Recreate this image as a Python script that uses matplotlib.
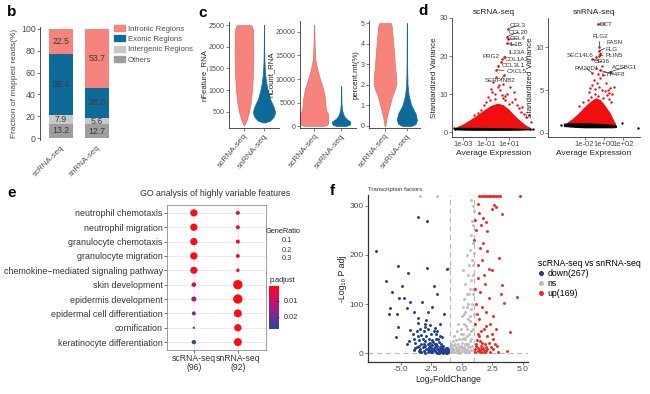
import numpy as np
import matplotlib
matplotlib.use("Agg")
import matplotlib.pyplot as plt
from matplotlib.patches import Patch
from matplotlib.lines import Line2D
from matplotlib.colors import LinearSegmentedColormap, Normalize
from matplotlib.colorbar import ColorbarBase

plt.rcParams['font.family'] = ['Liberation Sans', 'DejaVu Sans']

W, H = 650, 394

# ---- panel b: read fractions ----
samples = ["scRNA-seq", "snRNA-seq"]
region_names = ["Intronic Regions", "Exonic Regions", "Intergenic Regions", "Others"]
others = [13.2, 12.7]
intergenic = [7.9, 5.6]
exonic = [56.4, 28.0]
intronic = [22.5, 53.7]

# ---- panel c: violin outlines (value, half width) ----
nfeat_sc_y = [200, 300, 500, 700, 1000, 1300, 1600, 1900, 2200, 2400, 2470, 2500]
nfeat_sc_w = [0.02, 0.12, 0.25, 0.33, 0.40, 0.44, 0.46, 0.47, 0.46, 0.44, 0.40, 0.33]
nfeat_sn_y = [260, 300, 400, 500, 600, 700, 800, 1000, 1200, 1400, 1700, 2000, 2500]
nfeat_sn_w = [0.05, 0.30, 0.50, 0.55, 0.50, 0.40, 0.30, 0.18, 0.10, 0.05, 0.02, 0.012, 0.006]
ncount_sc_y = [0, 300, 1000, 2500, 3500, 4500, 6000, 8000, 10000, 12000, 14000, 17000, 21500]
ncount_sc_w = [0.35, 0.50, 0.53, 0.52, 0.44, 0.42, 0.40, 0.33, 0.22, 0.12, 0.05, 0.02, 0.006]
ncount_sn_y = [0, 200, 600, 1000, 1500, 2000, 2500, 3500, 5000, 8500]
ncount_sn_w = [0.15, 0.30, 0.34, 0.33, 0.20, 0.12, 0.08, 0.03, 0.012, 0.004]
mt_sc_y = [0.0, 0.3, 0.7, 1.0, 1.5, 1.8, 2.1, 2.5, 3.0, 3.5, 4.0, 4.5, 4.9, 5.0]
mt_sc_w = [0.02, 0.06, 0.14, 0.22, 0.34, 0.46, 0.52, 0.50, 0.45, 0.42, 0.38, 0.34, 0.30, 0.26]
mt_sn_y = [0.0, 0.1, 0.3, 0.6, 1.0, 1.5, 2.0, 3.0, 5.0]
mt_sn_w = [0.20, 0.40, 0.46, 0.40, 0.20, 0.08, 0.03, 0.012, 0.004]

# ---- panel d: HVG scatter (log10 mean expression, standardized variance) ----
sc_env_x = [-3.75, -3.0, -2.4, -1.8, -1.2, -0.6, 0.0, 0.5, 1.0, 1.5, 2.0, 2.5, 2.9]
sc_env_top = [1.2, 2.2, 3.3, 4.5, 5.8, 7.0, 7.6, 7.2, 6.0, 4.4, 3.0, 1.8, 1.2]
sc_black_x = [-3.8, -3.0, -2.0, -1.0, 0.0, 1.0, 2.0, 3.0]
sc_black_lo = [0.6, 0.5, 0.45, 0.45, 0.45, 0.45, 0.5, 0.6]
sc_black_hi = [1.2, 1.25, 1.25, 1.2, 1.15, 1.1, 1.0, 0.9]
sc_red_x = [-0.25, -0.55, 0.06, -0.85, 0.36, 0.66, -0.39, -0.09, 1.43, 0.97, 1.73, 2.03, 2.48,
            2.94, 2.79, -1.15, -1.45, 0.21, 1.12, -0.7, 0.52, 0.82, -1.75, 1.58, 2.18, -0.2,
            0.5, 1.25, -1.0, 0.1, 1.9, -2.1, 0.7, -0.5, 2.3]
sc_red_y = [10.1, 11.4, 11.8, 9.2, 9.7, 8.4, 13.1, 14.4, 10.5, 7.5, 7.0, 5.3, 4.0,
            2.7, 4.4, 7.0, 5.7, 11.0, 11.8, 8.4, 12.7, 10.1, 4.9, 8.8, 6.6, 8.6,
            9.0, 8.0, 7.8, 12.4, 6.2, 4.6, 9.4, 10.6, 4.8]
sc_black_pts_x = [-3.85, -3.7, 3.1, 2.9]
sc_black_pts_y = [1.0, 0.9, 0.7, 0.8]
sc_genes = ["CCL3", "CCL20", "CCL4", "IL1B", "IL23A", "PRG2", "COL1A1", "CCL3L1", "CXCL5", "SERPINB2"]
sc_gene_x = [0.91, 0.82, 0.91, 0.82, 0.6, 0.43, 0.3, 0.06, -0.09, 0.55]
sc_gene_y = [27.2, 25.1, 24.4, 23.3, 19.8, 19.2, 18.4, 17.5, 16.4, 14.9]
sc_text_x = [1.05, 1.0, 1.05, 1.05, 1.0, 0.18, 0.64, 0.36, 0.82, 0.27]
sc_text_y = [28.0, 26.3, 24.6, 22.9, 20.9, 19.9, 19.0, 17.4, 15.8, 13.6]
sc_text_ha = ["left", "left", "left", "left", "left", "right", "left", "left", "left", "center"]

sn_env_x = [-3.9, -3.26, -2.58, -1.9, -1.4, -0.87, -0.4, -0.02, 0.67, 1.0, 1.2]
sn_env_top = [1.2, 1.7, 2.4, 3.2, 3.7, 4.1, 3.9, 3.4, 2.3, 1.5, 1.1]
sn_black_x = [-4.2, -3.0, -2.0, -1.0, 0.0, 1.0, 1.3]
sn_black_lo = [0.75, 0.65, 0.6, 0.6, 0.6, 0.6, 0.65]
sn_black_hi = [1.15, 1.2, 1.2, 1.15, 1.1, 1.0, 0.9]
sn_red_x = [-1.2, -0.7, -0.36, 0.67, 1.0, -1.56, -0.9, -0.2, 0.3, -1.0, -0.6, 0.1, -1.3, 0.5,
            -0.5, -0.1, -2.2, 0.85, -0.8, -0.25, 0.2, -1.7, -0.95, 0.55, -1.45, -0.05, 0.4,
            -2.6, 0.75, -0.65]
sn_red_y = [5.6, 5.85, 6.4, 5.2, 5.4, 4.8, 4.6, 5.0, 4.4, 6.2, 4.3, 4.9, 4.2, 4.0,
            5.3, 4.1, 3.6, 4.5, 7.6, 7.8, 5.8, 3.9, 5.1, 4.7, 5.2, 6.8, 5.0, 3.1, 3.6, 6.9]
sn_black_pts_x = [-4.46, 1.9, 3.54]
sn_black_pts_y = [0.93, 1.16, 0.58]
sn_genes = ["DCT", "FLG2", "FASN", "FLG", "PLIN5", "SEC14L6", "CD36", "PM20D1", "ACSBG1", "CYP4F8"]
sn_gene_x = [-0.6, -0.5, -0.55, -0.45, -0.5, -0.8, -1.2, -1.2, 0.6, -0.4]
sn_gene_y = [12.7, 10.0, 9.5, 9.2, 9.0, 8.8, 8.6, 7.0, 7.1, 7.3]
sn_text_x = [-0.45, -0.36, 0.26, 0.15, 0.2, -1.1, -1.05, -1.83, 0.84, -0.2]
sn_text_y = [12.7, 11.3, 10.5, 9.75, 9.0, 9.0, 8.3, 7.5, 7.65, 6.85]
sn_text_ha = ["left", "center", "left", "left", "left", "right", "left", "center", "left", "left"]

# ---- panel e: GO dot plot ----
go_terms = ["neutrophil chemotaxis", "neutrophil migration", "granulocyte chemotaxis",
            "granulocyte migration", "chemokine\u2212mediated signaling pathway", "skin development",
            "epidermis development", "epidermal cell differentiation", "cornification",
            "keratinocyte differentiation"]
go_groups = ["scRNA-seq\n(96)", "snRNA-seq\n(92)"]
ratio_sc = [0.25, 0.25, 0.25, 0.25, 0.24, 0.10, 0.12, 0.076, 0.025, 0.088]
ratio_sn = [0.076, 0.076, 0.076, 0.072, 0.055, 0.41, 0.41, 0.30, 0.25, 0.30]
padj_sc = [0.001, 0.001, 0.001, 0.001, 0.002, 0.006, 0.011, 0.019, 0.022, 0.0275]
padj_sn = [0.002, 0.002, 0.002, 0.002, 0.003, 0.0005, 0.0005, 0.001, 0.0015, 0.001]

# ---- panel f: volcano of transcription factors ----
down_x = [-3.56, -2.82, -7.05, -5.25, -4.38, -2.87, -1.23, -6.2, -5.69, -4.92, -4.7, -5.1, -4.24,
          -3.23, -2.27, -2.05, -2.46, -5.88, -5.96, -5.28, -4.51, -3.88, -2.74, -1.45, -5.25,
          -5.39, -3.61, -3.0, -2.1, -1.64, -4.0, -3.9, -3.8, -3.7, -3.6, -3.5, -3.5, -3.4, -3.4,
          -3.3, -3.3, -3.2, -3.2, -3.1, -3.1, -3.0, -3.0, -2.9, -2.9, -2.8, -2.8, -2.7, -2.7,
          -2.6, -2.6, -2.5, -2.5, -2.4, -2.4, -2.3, -2.3, -2.2, -2.2, -2.1, -2.1, -2.0, -2.0,
          -1.9, -1.9, -1.8, -1.8, -1.7, -1.7, -1.6, -1.6, -1.5, -1.5, -1.4, -1.3, -1.3, -1.2,
          -1.1, -1.1, -3.0, -2.6, -4.3, -4.5, -3.8, -2.4, -1.9, -2.8, -3.3, -1.5, -1.2, -2.2,
          -3.6, -4.2, -2.0, -1.8, -2.9, -3.4, -3.0, -2.7, -2.5, -2.3, -2.1, -1.9, -1.7, -1.5,
          -1.4, -1.3, -1.2, -1.15, -2.0, -2.2, -2.4, -2.6, -2.8, -3.1, -3.5, -3.7, -3.9, -2.35,
          -1.65, -1.95]
down_y = [277, 269, 208, 178, 163, 173, 172, 147, 125, 136, 112, 112, 104,
          105, 136, 121, 95, 92, 80, 81, 92, 85, 85, 81, 54,
          34, 71, 54, 39, 34, 40, 30, 22, 45, 35, 15, 28, 50, 8,
          38, 20, 12, 30, 45, 5, 25, 15, 35, 8, 20, 50, 12, 30,
          4, 22, 40, 10, 16, 28, 6, 45, 20, 12, 3, 30, 15, 8,
          24, 4, 12, 36, 6, 18, 10, 3, 14, 5, 8, 4, 11, 6,
          3, 8, 60, 58, 25, 18, 10, 2, 1.5, 2, 3, 1.5, 1.5, 52,
          62, 48, 45, 60, 68, 2, 1.5, 6, 3, 11, 18, 8, 2, 9,
          3, 1.5, 10, 4, 1.5, 5, 7, 14, 9, 18, 4, 12, 6, 24,
          14, 30]
ns_x = [-1.5, -1.4, -1.2, -1.0, -1.0, -0.9, -0.9, -0.8, -0.8, -0.7, -0.7, -0.6, -0.6, -0.5,
        -0.5, -0.4, -0.4, -0.3, -0.3, -0.2, -0.2, -0.1, -0.1, 0.0, 0.0, 0.0, 0.1, 0.1, 0.2,
        0.2, 0.2, 0.3, 0.3, 0.3, 0.4, 0.4, 0.4, 0.5, 0.5, 0.5, 0.55, 0.6, 0.6, 0.65, 0.7, 0.7,
        0.7, 0.75, 0.8, 0.8, 0.8, 0.85, 0.85, 0.9, 0.9, 0.9, 0.95, 0.95, 0.95, 1.0, 1.0, 1.0,
        0.6, 0.3, -0.2, 0.9, -1.8, 0.1, 0.45, 0.8, -0.6, -0.3, 0.05, 0.35, 0.65, -0.85, -0.45,
        0.25, 0.75, 0.15, -3.4, -2.0, -1.05, -0.15, 0.5, 0.85, -1.3, -1.1, -0.95, -0.75, -0.65,
        -0.55, -0.35, -0.25, -0.05, 0.05, 0.15, 0.25, 0.35, 0.45, 0.55, 0.65, 0.75, 0.85, 0.95,
        0.9, 0.2, -0.1, 0.4, 0.6]
ns_y = [3, 6, 10, 4, 14, 8, 20, 3, 12, 25, 6, 16, 35, 9,
        28, 4, 45, 18, 60, 30, 8, 50, 14, 75, 22, 5, 40, 95, 12,
        60, 110, 30, 85, 140, 50, 120, 8, 70, 160, 20, 100, 180, 40, 130, 210, 65,
        12, 150, 240, 90, 30, 190, 270, 120, 225, 300, 50, 160, 260, 290, 205, 80,
        3, 2, 1.5, 6, 1.5, 170, 200, 312, 2, 5, 10, 18, 25, 2, 12,
        4, 7, 32, 320, 320, 173, 3, 4, 15, 2, 6, 2, 9, 3,
        20, 7, 12, 3, 30, 9, 20, 55, 35, 15, 75, 45, 100, 130,
        180, 80, 40, 95, 120]
up_x = [1.36, 2.65, 2.81, 2.51, 3.28, 1.44, 1.77, 1.09, 1.99, 1.56, 2.05, 1.03, 1.72, 2.1,
        3.08, 1.64, 2.26, 2.46, 1.36, 3.28, 4.5, 2.26, 3.22, 3.49, 3.96, 2.54, 3.69, 1.2, 1.5,
        1.3, 1.8, 1.1, 1.5, 1.9, 1.2, 1.7, 2.0, 1.4, 2.3, 1.1, 1.8, 2.8, 1.3, 2.1, 2.6, 1.5,
        1.9, 1.2, 2.4, 1.6, 2.0, 1.3, 1.75, 2.2, 2.9, 1.1, 1.5, 1.9, 3.0, 1.25, 1.6, 2.5,
        1.45, 1.6, 1.75, 1.9, 2.05, 2.2, 2.35, 2.5, 2.65, 2.8, 2.95, 3.1, 4.75,
        1.05, 1.15, 1.35, 1.45, 1.55, 1.65, 1.7, 1.85, 1.95, 2.1, 2.3, 2.6, 1.4, 2.0, 1.25, 2.7]
up_y = [304, 302, 297, 293, 284, 286, 275, 271, 268, 261, 248, 231, 224, 208,
        193, 190, 171, 170, 153, 139, 115, 112, 121, 102, 44, 75, 5, 250, 215,
        180, 160, 130, 125, 140, 100, 95, 85, 70, 60, 60, 50, 50, 40, 35, 30, 25,
        18, 15, 12, 8, 5, 4, 10, 22, 15, 8, 2, 2.5, 3, 28, 45, 40,
        320, 320, 320, 320, 320, 320, 320, 320, 320, 320, 320, 320, 320,
        3, 20, 10, 6, 15, 3, 22, 6, 12, 8, 3, 9, 35, 55, 80, 20]

fig = plt.figure(figsize=(W / 100, H / 100), dpi=100)
fig.patch.set_facecolor("white")


def px_axes(x0, y0, x1, y1):
    return fig.add_axes([x0 / W, 1 - y1 / H, (x1 - x0) / W, (y1 - y0) / H])


def fig_text(x, y, s, **kw):
    fig.text(x / W, 1 - y / H, s, **kw)


def tidy(ax, left=True, bottom=True, ysize=6, xsize=6):
    for side in ["top", "right"]:
        ax.spines[side].set_visible(False)
    ax.spines["left"].set_visible(left)
    ax.spines["bottom"].set_visible(bottom)
    for side in ["left", "bottom"]:
        ax.spines[side].set_linewidth(0.6)
        ax.spines[side].set_color("#333333")
    ax.tick_params(colors="#4D4D4D", length=2, width=0.5, pad=1.2)
    ax.tick_params(axis="y", labelsize=ysize)
    ax.tick_params(axis="x", labelsize=xsize)


SALMON = "#F6847D"
TEAL = "#0E6A98"
GREY_TXT = "#4D4D4D"

# panel letters
for letter, lx, ly in [("b", 12, 12), ("c", 203, 13), ("d", 423, 11), ("e", 12, 193), ("f", 332, 191)]:
    fig_text(lx, ly, letter, fontsize=11, fontweight="bold", va="center", ha="center")

# ================= b =================
ax = px_axes(40, 27, 112, 140)
xb = np.arange(1, len(samples) + 1)
bw = 0.667
bottoms = np.zeros(len(samples))
stack = [(others, "#9E9E9E"), (intergenic, "#C9C9C9"), (exonic, TEAL), (intronic, SALMON)]
for vals, col in stack:
    ax.bar(xb, vals, bw, bottom=bottoms, color=col, edgecolor="none")
    for i, v in enumerate(vals):
        ax.text(xb[i], bottoms[i] + v / 2, f"{v:.1f}", ha="center", va="center",
                fontsize=6.3, color="#3A3A3A")
    bottoms += np.array(vals)
ax.set_xlim(0.42, 2.42)
ax.set_ylim(-1.8, 101.8)
ax.set_yticks([0, 20, 40, 60, 80, 100])
ax.set_xticks(xb)
ax.set_xticklabels(samples, rotation=45, ha="right", rotation_mode="anchor")
tidy(ax, bottom=False, ysize=6.3, xsize=5.8)
ax.tick_params(axis="x", length=0, pad=3)
ax.set_ylabel("Fraction of mapped reads(%)", fontsize=6, color=GREY_TXT, labelpad=2)
handles = [Patch(color=c) for c in [SALMON, TEAL, "#C9C9C9", "#9E9E9E"]]
fig.legend(handles, region_names, loc="upper left", bbox_to_anchor=(114 / W, 1 - 25 / H),
           frameon=False, fontsize=5.6, handlelength=1.4, handleheight=0.8,
           labelspacing=0.35, handletextpad=0.4, borderaxespad=0, borderpad=0,
           labelcolor=GREY_TXT)

# ================= c =================
violin_panels = [
    ((229, 22, 279, 128), (0.25, 2.75), (132, 2569), [500, 1000, 1500, 2000, 2500],
     "nFeature_RNA", (nfeat_sc_y, nfeat_sc_w), (nfeat_sn_y, nfeat_sn_w)),
    ((300, 21, 356, 128), (0.48, 2.55), (-425, 22340), [0, 5000, 10000, 15000, 20000],
     "nCount_RNA", (ncount_sc_y, ncount_sc_w), (ncount_sn_y, ncount_sn_w)),
    ((369, 21, 420, 128), (0.27, 2.6), (-0.1, 5.1), [0, 1, 2, 3, 4, 5],
     "percent.mt(%)", (mt_sc_y, mt_sc_w), (mt_sn_y, mt_sn_w)),
]
for box, xl, yl, yt, lab, sc, sn in violin_panels:
    ax = px_axes(*box)
    for pos, (vy, vw), fc, ec in [(1, sc, SALMON, "#D9736C"), (2, sn, TEAL, TEAL)]:
        vy = np.array(vy, dtype=float)
        vw = np.array(vw)
        ax.fill_betweenx(vy, pos - vw, pos + vw, facecolor=fc, edgecolor=ec, linewidth=0.5)
    ax.set_xlim(*xl)
    ax.set_ylim(*yl)
    ax.set_yticks(yt)
    ax.set_xticks([1, 2])
    ax.set_xticklabels(samples, rotation=50, ha="right", rotation_mode="anchor")
    tidy(ax, ysize=5.1, xsize=6)
    ax.set_ylabel(lab, fontsize=5.6, color="#222222", labelpad=0.5)

# ================= d =================
def hvg_panel(box, xlim_log, ylim, yt, xt, xtl, title, env_x, env_top, bx, blo, bhi,
              rx, ry, kx, ky, genes, gx, gy, tx, ty, tha):
    ax = px_axes(*box)
    ax.set_xscale("log")
    ex = 10.0 ** np.array(env_x)
    ax.fill_between(ex, 0.8, env_top, color="#F00E0E", linewidth=0, zorder=1)
    ax.scatter(10.0 ** np.array(rx), ry, s=3, color="#F00E0E", linewidths=0, zorder=2)
    ax.scatter(10.0 ** np.array(gx), gy, s=3.5, color="#F00E0E", linewidths=0, zorder=2)
    ax.fill_between(10.0 ** np.array(bx), blo, bhi, color="black", linewidth=0, zorder=3)
    ax.scatter(10.0 ** np.array(kx), ky, s=3, color="black", linewidths=0, zorder=3)
    for g, px_, py_, tx_, ty_, ha in zip(genes, gx, gy, tx, ty, tha):
        ax.annotate(g, (10 ** px_, py_), (10 ** tx_, ty_), fontsize=4.5, color="#333333",
                    ha=ha, va="center",
                    arrowprops=dict(arrowstyle="-", lw=0.4, color="black", shrinkA=0, shrinkB=0.5))
    ax.set_xlim(10 ** xlim_log[0], 10 ** xlim_log[1])
    ax.set_ylim(*ylim)
    ax.set_yticks(yt)
    ax.set_xticks(xt)
    ax.set_xticklabels(xtl)
    ax.minorticks_off()
    tidy(ax, ysize=5.5, xsize=5.5)
    ax.set_title(title, fontsize=6, color="#222222", pad=3)
    ax.set_ylabel("Standardized Variance", fontsize=5.8, color="#222222", labelpad=0.5)
    ax.set_xlabel("Average Expression", fontsize=6, color="#222222", labelpad=1)


hvg_panel((452, 18, 535, 137), (-4.0, 3.3), (-1.3, 29.7), [0, 10, 20, 30],
          [1e-3, 1e-1, 1e1], ["1e-03", "1e-01", "1e+01"], "scRNA-seq",
          sc_env_x, sc_env_top, sc_black_x, sc_black_lo, sc_black_hi,
          sc_red_x, sc_red_y, sc_black_pts_x, sc_black_pts_y,
          sc_genes, sc_gene_x, sc_gene_y, sc_text_x, sc_text_y, sc_text_ha)
hvg_panel((548, 18, 640, 137), (-5.8, 3.74), (-0.47, 13.4), [0, 5, 10],
          [1e-2, 1e0, 1e2], ["1e-02", "1e+00", "1e+02"], "snRNA-seq",
          sn_env_x, sn_env_top, sn_black_x, sn_black_lo, sn_black_hi,
          sn_red_x, sn_red_y, sn_black_pts_x, sn_black_pts_y,
          sn_genes, sn_gene_x, sn_gene_y, sn_text_x, sn_text_y, sn_text_ha)

# ================= e =================
cmap = LinearSegmentedColormap.from_list("padj", ["#FF0A14", "#D1096B", "#7B2A8C", "#23489C"])
norm = Normalize(0.0006, 0.0276)
ax = px_axes(167, 205, 266, 350)
rows = np.arange(1, len(go_terms) + 1)
for i, (ratios, padj) in enumerate([(ratio_sc, padj_sc), (ratio_sn, padj_sn)]):
    ax.scatter(np.full(len(rows), i + 1), rows, s=np.array(ratios) * 110,
               c=padj, cmap=cmap, norm=norm, linewidths=0, zorder=3)
ax.set_xlim(0.39, 2.64)
ax.set_ylim(10.55, 0.45)
ax.set_yticks(rows)
ax.set_yticklabels(go_terms, fontsize=6.4, color="#1A1A1A")
ax.set_xticks([1, 2])
ax.set_xticklabels(go_groups, fontsize=6.2, color="#1A1A1A", linespacing=0.95)
ax.grid(True, color="#E3E3E3", linewidth=0.5, zorder=0)
ax.set_axisbelow(True)
for s in ax.spines.values():
    s.set_color("#8C8C8C")
    s.set_linewidth(0.6)
ax.tick_params(length=2, width=0.5, colors="#333333", pad=1)
fig_text(215, 194, "GO analysis of highly variable features", fontsize=6.3, color="#333333",
         ha="center", va="center")
fig_text(266, 231, "GeneRatio", fontsize=5.3, color="#222222", va="center")
for lab, ly in [("0.1", 241), ("0.2", 250), ("0.3", 259)]:
    fig_text(282, ly, lab, fontsize=5.3, color="#333333", va="center")
fig_text(270, 280, "p.adjust", fontsize=5.3, color="#222222", va="center")
cax = px_axes(269, 286, 279, 329)
cb = ColorbarBase(cax, cmap=cmap, norm=norm, orientation="vertical")
cb.set_ticks([0.01, 0.02])
cb.set_ticklabels(["0.01", "0.02"])
cb.outline.set_visible(False)
cax.invert_yaxis()
cax.tick_params(labelsize=5.3, colors="#333333", length=2, width=0.6, direction="in")
for t in cax.get_yticklines():
    t.set_color("white")

# ================= f =================
ax = px_axes(368, 195, 528, 362)
ax.scatter(ns_x, ns_y, s=4.5, color="#BDBDBD", linewidths=0, zorder=2)
ax.scatter(down_x, down_y, s=4.5, color="#1D3F8E", linewidths=0, zorder=3)
ax.scatter(up_x, up_y, s=4.5, color="#EA2A22", linewidths=0, zorder=3)
for xv in [-1, 1]:
    ax.axvline(xv, color="#BDBDBD", lw=0.9, ls=(0, (4, 3)), zorder=1)
ax.axhline(1.3, color="#BDBDBD", lw=0.9, ls=(0, (4, 3)), zorder=1)
ax.set_xlim(-7.68, 5.43)
ax.set_ylim(-17.6, 322)
ax.set_xticks([-5, -2.5, 0, 2.5, 5])
ax.set_xticklabels(["-5.0", "-2.5", "0.0", "2.5", "5.0"])
ax.set_yticks([0, 100, 200, 300])
tidy(ax, ysize=6, xsize=6)
ax.spines["left"].set_linewidth(0.9)
ax.spines["bottom"].set_linewidth(0.9)
ax.set_xlabel("Log\u2082FoldChange", fontsize=6.3, color="#222222", labelpad=1)
ax.set_ylabel("-Log\u2081\u2080 P adj", fontsize=6.3, color="#222222", labelpad=2)
fig_text(368, 190, "Transcription factors", fontsize=4.3, color="#333333", va="center")
leg_handles = [Line2D([], [], marker="o", ls="", ms=2.6, color=c)
               for c in ["#1D3F8E", "#BDBDBD", "#EA2A22"]]
fig.legend(leg_handles, ["down(267)", "ns", "up(169)"], title="scRNA-seq vs snRNA-seq",
           loc="upper left", bbox_to_anchor=(538 / W, 1 - 259 / H), frameon=False,
           fontsize=6.3, title_fontsize=6.3, handlelength=0.6, handletextpad=0.5,
           labelspacing=0.1, borderpad=0, borderaxespad=0, alignment="left")

fig.savefig("out.png", dpi=100, facecolor="white")
